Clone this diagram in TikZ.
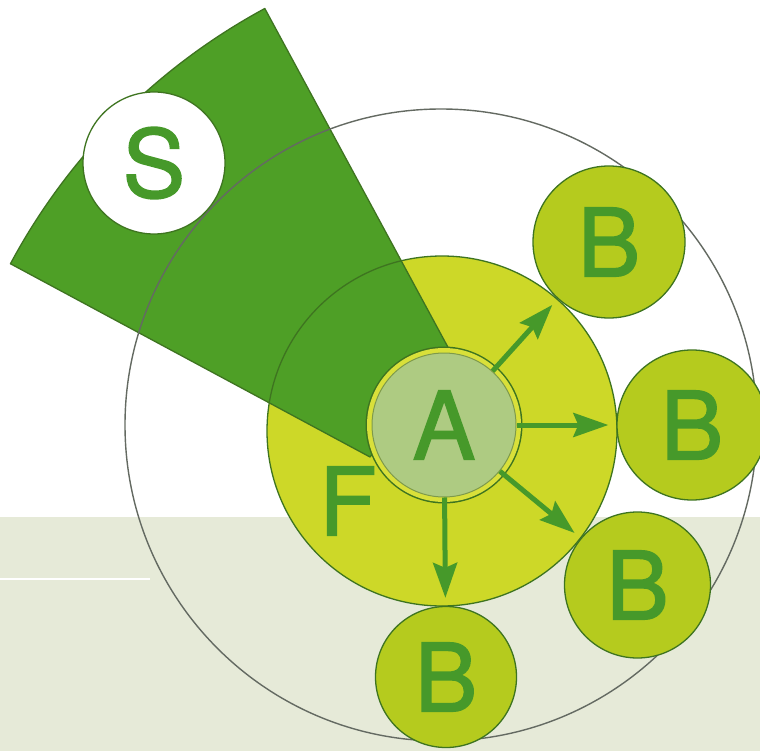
\documentclass[tikz,border=0pt]{standalone}
\usepackage{fontspec}
\setmainfont{TeX Gyre Heros}
\newfontfamily\letterfam{TeX Gyre Heros}[FakeBold=1.6]
\usetikzlibrary{arrows.meta}
\definecolor{bandgray}{HTML}{E6EAD8}
\definecolor{darkline}{HTML}{3E7420}
\definecolor{sectorgreen}{HTML}{4E9F26}
\definecolor{lettergreen}{HTML}{46992A}
\definecolor{fyellow}{HTML}{CDD828}
\definecolor{bgreen}{HTML}{B5CB1E}
\definecolor{apale}{HTML}{AECB82}
\definecolor{ringyellow}{HTML}{D9E03A}
\definecolor{aline}{HTML}{7E9A4A}
\definecolor{bigline}{HTML}{646A62}
\newcommand{\letterfont}{\letterfam\fontsize{94}{94}\selectfont}
\tikzset{
  ring/.style={circle, draw=darkline, line width=1.3pt, inner sep=0pt, text=lettergreen, font=\letterfont},
  bnode/.style={ring, fill=bgreen, minimum size=#1},
  anode/.style={circle, fill=apale, draw=aline, line width=1pt, inner sep=0pt, minimum size=144pt,
    text=lettergreen, font=\letterfont,
    preaction={draw=darkline, line width=13pt},
    preaction={draw=ringyellow, line width=10pt}},
  arr/.style={draw=lettergreen, line width=5pt, -{Stealth[length=35pt,width=24pt,inset=5pt]}, shorten >=8pt},
}
\begin{document}
\begin{tikzpicture}[x=1pt,y=1pt,yscale=-1,xscale=1]
  \useasboundingbox (0,0) rectangle (760,751);
  % Background
  \fill[white] (0,0) rectangle (760,751);
  \fill[bandgray] (0,517) rectangle (760,751);
  \draw[white, line width=2pt] (0,579) -- (150,579);
  % Field circle
  \node[circle, fill=fyellow, inner sep=0pt, minimum size=350pt] (F) at (442,431) {};
  % Sector
  \filldraw[fill=sectorgreen, draw=darkline, line width=1.3pt, line join=round]
    (450,351) -- (264.8,8.5) arc[start angle=241.6, end angle=208.2, radius=627] -- (370,457) -- cycle;
  \draw[darkline, line width=1.3pt] (F.center) circle[radius=175];
  % Outer circle
  \node[circle, draw=bigline, line width=1.4pt, inner sep=0pt, minimum size=632pt] (outer) at (441,425) {};
  % S node
  \node[ring, fill=white, minimum size=142pt] (S) at (154,163) {S};
  % A node
  \node[anode] (A) at (444,425) {A};
  % F label
  \node[text=lettergreen, font=\letterfont] (Flabel) at (348,501) {F};
  % B nodes
  \node[bnode=152pt] (B1) at (609,242) {B};
  \node[bnode=150pt] (B2) at (692,425) {B};
  \node[bnode=146pt] (B3) at (637.5,585) {B};
  \node[bnode=141pt] (B4) at (446,677) {B};
  % Connections
  \draw[arr] (A) -- (B1);
  \draw[arr] (A) -- (B2);
  \draw[arr] (A) -- (B3);
  \draw[arr] (A) -- (B4);
\end{tikzpicture}
\end{document}
